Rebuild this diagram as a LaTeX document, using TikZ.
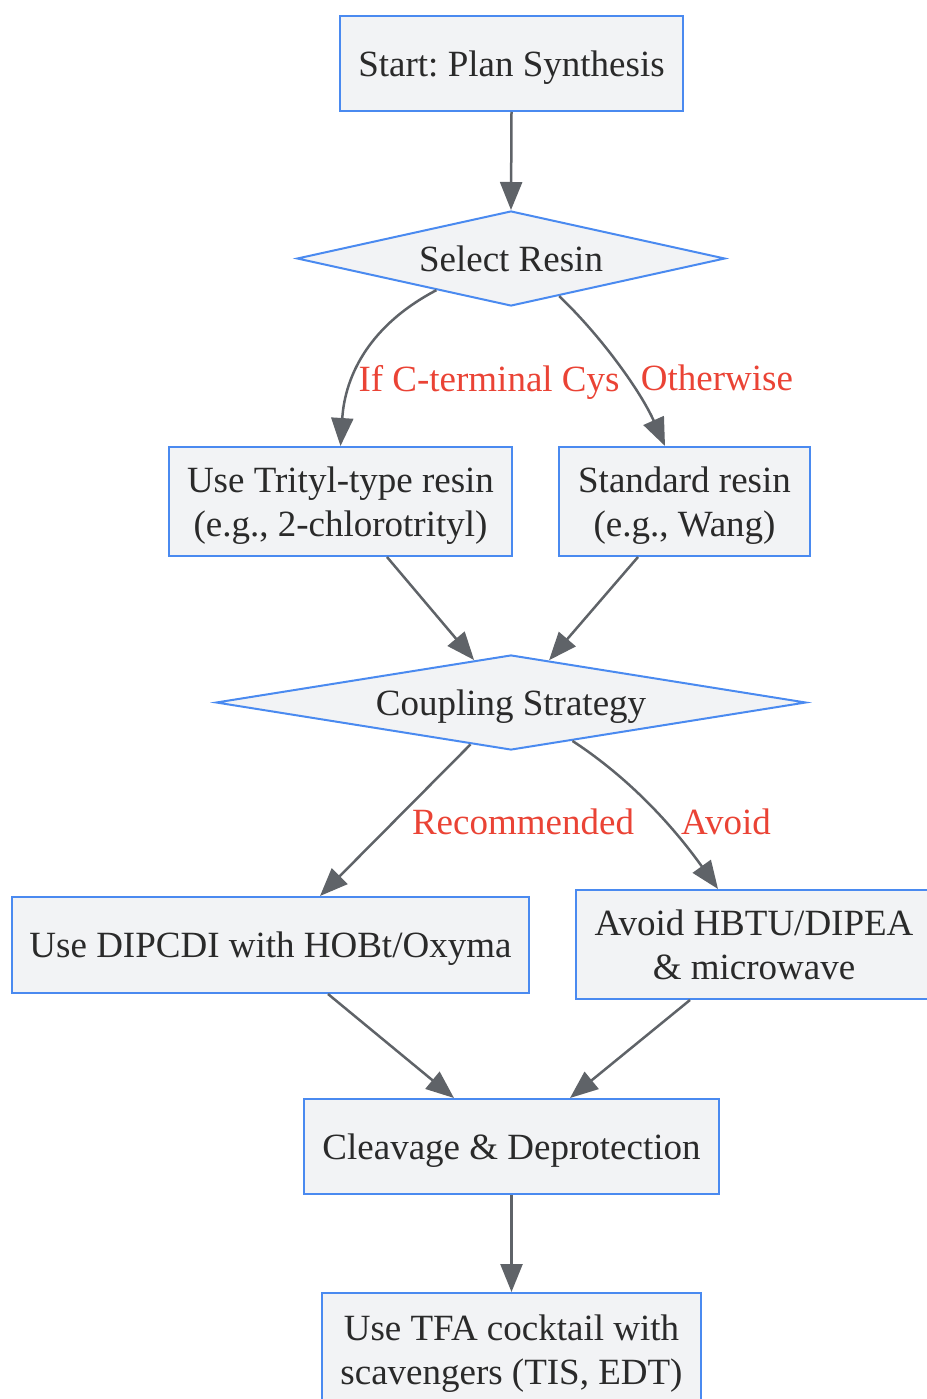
\documentclass[tikz,border=0pt]{standalone}
\usepackage{fontspec}
\setmainfont{Liberation Serif}
\frenchspacing
\usetikzlibrary{shapes.geometric,arrows.meta}
\definecolor{boxfill}{HTML}{F2F3F5}
\definecolor{boxline}{HTML}{4A8AF0}
\definecolor{arrowc}{HTML}{5F6368}
\definecolor{labc}{HTML}{EA4335}
\definecolor{txt}{HTML}{2A2A2A}
\tikzset{
  box/.style={draw=boxline,fill=boxfill,line width=2pt,inner sep=0pt,align=center,text=txt,text depth=0pt,font=\fontsize{37}{44}\selectfont},
  dia/.style={diamond,draw=boxline,fill=boxfill,line width=2pt,inner sep=0pt,text=txt,text depth=0pt,font=\fontsize{37}{44}\selectfont},
  conn/.style={draw=arrowc,line width=2.5pt,-{Triangle[length=28pt,width=22pt]}},
  lab/.style={text=labc,text depth=0pt,font=\fontsize{37}{44}\selectfont,inner sep=0pt}
}
\begin{document}
\begin{tikzpicture}[x=1pt,y=-1pt]
\useasboundingbox (0,0) rectangle (926,1399);
\node[box,minimum width=343,minimum height=95] (start) at (511.5,63.5) {Start: Plan Synthesis};
\node[dia,shape aspect=4.5,minimum width=428,minimum height=95] (sel) at (511,258.5) {Select Resin};
\node[box,minimum width=343,minimum height=109] (tri) at (340.5,501.5) {Use Trityl-type resin\\(e.g., 2-chlorotrityl)};
\node[box,minimum width=251,minimum height=109] (std) at (684.5,501.5) {Standard resin\\(e.g., Wang)};
\node[dia,shape aspect=6.2,minimum width=590,minimum height=95] (cpl) at (511,702.5) {Coupling Strategy};
\node[box,minimum width=517,minimum height=96] (dip) at (270.5,945) {Use DIPCDI with HOBt/Oxyma};
\node[box,minimum width=356,minimum height=109] (avd) at (754,944.5) {Avoid HBTU/DIPEA\\\& microwave};
\node[box,minimum width=415,minimum height=95] (clv) at (511.5,1146.5) {Cleavage \& Deprotection};
\node[box,minimum width=379,minimum height=114] (tfa) at (511.5,1350) {Use TFA cocktail with\\scavengers (TIS, EDT)};

\node[lab] (l1) at (489,378) {If C-terminal Cys};
\node[lab] (l2) at (717,378) {Otherwise};
\node[lab] (l3) at (523,822) {Recommended};
\node[lab] (l4) at (726,822) {Avoid};

\draw[conn] (start.south) -- (sel.north);
\draw[conn] (sel.203) .. controls (370,325) and (345,375) .. (tri.north);
\draw[conn] (sel.-38) .. controls (600,335) and (640,390) .. ([xshift=-19.5pt]std.north);
\draw[conn] ([xshift=46.5pt]tri.south) -- (cpl.131.7);
\draw[conn] ([xshift=-46.5pt]std.south) -- (cpl.48.3);
\draw[conn] (cpl.226.8) -- ([xshift=49.5pt]dip.north);
\draw[conn] (cpl.-32.2) .. controls (620,772) and (665,815) .. ([xshift=-36pt]avd.north);
\draw[conn] ([xshift=57.5pt]dip.south) -- ([xshift=-57.5pt]clv.north);
\draw[conn] ([xshift=-64pt]avd.south) -- ([xshift=58.5pt]clv.north);
\draw[conn] (clv.south) -- (tfa.north);
\end{tikzpicture}
\end{document}
